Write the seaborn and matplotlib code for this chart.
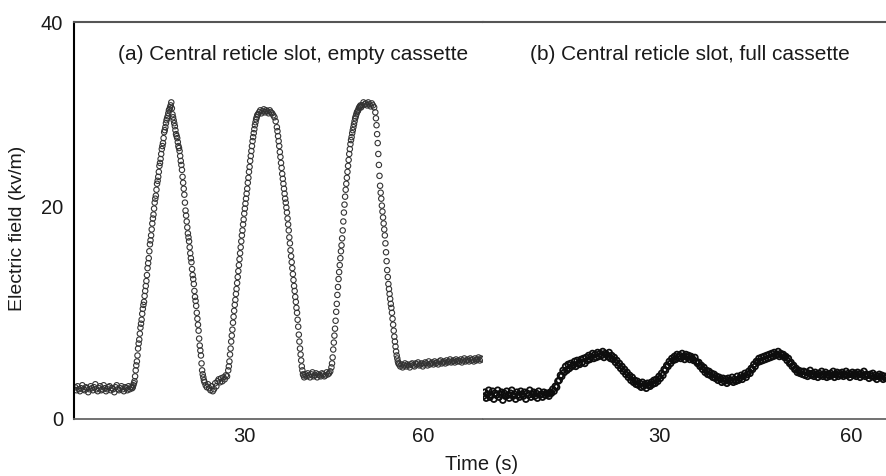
import numpy as np
import matplotlib
matplotlib.use("Agg")
import matplotlib.pyplot as plt
import matplotlib.transforms as mtransforms
import seaborn as sns

# Electric field readings (kV/m), main samples every 0.2 s
# (a) central reticle slot, empty cassette -> starts at t = 1.4 s
field_empty = [
    3.2, 2.9, 3.3, 3.0, 2.8, 3.1, 3.4, 3.0, 2.9, 3.2,
    3.1, 2.7, 3.0, 3.3, 3.1, 2.9, 3.2, 3.5, 3.0, 2.8,
    3.1, 3.3, 2.9, 3.0, 3.4, 3.1, 2.8, 3.0, 3.2, 3.3,
    2.9, 3.1, 3.0, 2.7, 3.2, 3.4, 3.0, 2.9, 3.1, 3.3,
    3.0, 2.8, 3.2, 3.1, 2.9, 3.3, 3.0, 3.2, 3.1,
    # first peak
    3.4, 3.8, 4.9, 5.8, 7.1, 8.0, 9.2, 10.0, 11.1, 11.8, 12.9, 13.9, 15.2, 16.2,
    17.6, 18.5, 19.7, 20.6, 21.8, 22.5, 23.7, 24.4, 25.5, 26.2, 27.2, 27.8, 28.9,
    29.4, 30.1, 30.5, 31.1, 31.4, 31.9,
    30.7, 30.1, 29.5, 28.7, 28.3, 27.5, 27.0, 26.0, 25.1, 23.8, 22.6, 21.0, 19.9,
    18.7, 17.9, 16.7, 15.8, 14.5, 13.6, 12.3, 11.4, 10.1, 8.9, 7.4, 6.4, 4.9, 4.2,
    3.7, 3.4, 3.2, 3.5, 3.1, 2.9, 3.3, 2.8, 3.0, 3.6, 3.3, 3.8, 4.0, 3.7, 4.1,
    3.8, 4.2, 4.0, 4.4, 4.3, 4.9,
    # second peak
    5.8, 7.1, 8.4, 9.7, 10.9, 12.0, 13.1, 14.3, 15.5, 16.7, 17.9, 19.0, 20.1,
    21.2, 22.2, 23.2, 24.3, 25.4, 26.5, 27.5, 28.4, 29.2, 29.9, 30.4,
    30.7, 30.9, 31.1, 30.8, 31.0, 31.2, 30.9, 31.1, 31.0, 30.8, 31.1, 30.9, 30.8,
    30.6, 30.4, 30.0, 29.4,
    28.5, 27.5, 26.4, 25.3, 24.2, 23.2, 22.2, 21.3, 20.2, 19.0, 17.7, 16.4, 15.2,
    14.0, 12.9, 11.8, 10.7, 9.3, 7.8, 6.5, 5.3, 4.5,
    4.2, 4.5, 4.3, 4.6, 4.4, 4.2, 4.5, 4.7, 4.3, 4.4, 4.6, 4.2, 4.5, 4.4, 4.3,
    4.6, 4.5, 4.3, 4.4, 4.7, 4.5, 4.6, 4.8, 5.2,
    # third peak
    6.2, 7.7, 9.1, 10.8, 12.5, 14.1, 15.5, 16.9, 18.2, 19.9, 21.6, 23.1, 24.3,
    25.5, 26.7, 27.7, 28.4, 29.1, 29.7, 30.3, 30.7, 31.0, 31.3, 31.5, 31.4,
    31.6, 31.9, 31.7, 31.8, 31.6, 31.9, 31.7, 31.5, 31.8, 31.6, 31.4, 30.9,
    29.6, 27.8, 25.6, 23.5, 22.2, 20.9, 19.7, 18.5, 16.8, 15.0, 13.6, 12.6, 11.6,
    10.7, 9.5, 8.3, 7.3, 6.4, 5.8, 5.5,
    5.3, 5.5, 5.2, 5.4, 5.6, 5.3, 5.5, 5.4, 5.2, 5.5,
    5.6, 5.4, 5.3, 5.6, 5.5, 5.7, 5.4, 5.5, 5.6, 5.3,
    5.5, 5.7, 5.6, 5.4, 5.8, 5.5, 5.6, 5.7, 5.5, 5.8,
    5.6, 5.7, 5.5, 5.8, 5.9, 5.6, 5.7, 5.8, 5.6, 5.9,
    5.7, 5.8, 6.0, 5.7, 5.8, 5.9, 5.7, 6.0, 5.8, 5.9,
    5.8, 6.0, 5.7, 5.9, 6.1, 5.8, 5.9, 6.0, 5.8, 6.1,
    5.9, 6.0, 5.8, 6.1, 5.9, 6.0, 6.2, 5.9, 6.1, 6.0,
]
t0_empty = 1.4

# in-between samples (0.1 s offset) on the steep edges of panel (a)
rise1_mid = [3.2, 3.6, 4.3, 5.4, 6.4, 7.6, 8.6, 9.6, 10.6, 11.5,
             12.4, 13.4, 14.5, 15.7, 16.9, 18.0, 19.1, 20.2, 21.2, 22.2,
             23.1, 24.0, 24.9, 25.8, 26.7, 27.5, 28.3, 29.1, 29.8, 30.3,
             30.8, 31.2, 31.6, 31.3]
fall1_mid = [30.4, 29.8, 29.1, 28.5, 27.9, 27.3, 26.5, 25.6, 24.4, 23.2,
             21.8, 20.5, 19.3, 18.3, 17.3, 16.2, 15.1, 14.1, 12.9, 11.9,
             10.7, 9.5, 8.1, 6.9, 5.6, 4.5, 3.9]
rise2_mid = [5.3, 6.5, 7.8, 9.0, 10.3, 11.5, 12.6, 13.7, 14.9, 16.1,
             17.3, 18.5, 19.6, 20.7, 21.7, 22.7, 23.8, 24.9, 26.0, 27.0,
             28.0, 28.8, 29.6, 30.2, 30.6]
fall2_mid = [29.0, 28.0, 26.9, 25.8, 24.7, 23.7, 22.7, 21.8, 20.8, 19.6,
             18.3, 17.0, 15.8, 14.6, 13.4, 12.3, 11.2, 10.0, 8.5, 7.1,
             5.9, 4.9, 4.4]
rise3_mid = [5.6, 7.0, 8.4, 9.9, 11.6, 13.3, 14.8, 16.2, 17.5, 19.0,
             20.8, 22.4, 23.7, 24.9, 26.1, 27.2, 28.1, 28.8, 29.4, 30.0,
             30.5, 30.9, 31.1, 31.4, 31.6]
fall3_mid = [30.3, 28.7, 26.7, 24.5, 22.8, 21.5, 20.3, 19.1, 17.7, 15.9,
             14.3, 13.1, 12.1, 11.2, 10.1, 8.9, 7.8, 6.8, 6.1, 5.6]
mid_starts = [11.1, 17.9, 27.3, 35.5, 44.7, 52.1]

# (b) central reticle slot, full cassette -> starts at t = 2.6 s
field_full = [
    2.3, 2.7, 2.1, 2.5, 2.9, 2.2, 2.4, 2.8, 2.0, 2.6,
    2.4, 2.9, 2.2, 2.5, 2.7, 1.9, 2.6, 2.3, 2.8, 2.4,
    2.1, 2.6, 2.9, 2.3, 2.5, 2.0, 2.7, 2.4, 2.2, 2.8,
    2.5, 2.3, 2.7, 2.0, 2.6, 2.4, 2.9, 2.2, 2.5, 2.7,
    2.3, 2.6, 2.1, 2.8, 2.4, 2.5, 2.2, 2.7, 2.4, 2.6,
    2.5, 2.3, 2.7, 2.6, 3.0, 2.8, 3.3, 3.2, 3.8, 3.9,
    4.4, 4.3, 4.9, 4.7, 5.3, 4.9, 5.5, 5.1, 5.6, 5.3,
    5.4, 5.8, 5.3, 5.9, 5.6, 5.5, 6.0, 5.7, 6.1, 5.6,
    6.2, 5.9, 6.4, 6.0, 6.3, 6.6, 6.1, 6.5, 6.2, 6.7,
    6.3, 6.6, 6.4, 6.8, 6.2, 6.6, 6.5, 6.3, 6.7, 6.1,
    6.4, 6.0, 6.2, 5.7, 5.9, 5.4, 5.6, 5.1, 5.3, 4.8,
    5.0, 4.5, 4.7, 4.2, 4.4, 3.9, 4.2, 3.7, 3.9, 3.5,
    3.8, 3.4, 3.6, 3.2, 3.7, 3.3, 3.5, 3.1, 3.6, 3.4,
    3.3, 3.7, 3.5, 3.9, 3.6, 4.0, 3.8, 4.3, 4.1, 4.6,
    4.4, 5.0, 4.9, 5.4, 5.3, 5.8, 5.6, 6.1, 5.9, 6.3,
    6.0, 6.5, 6.2, 6.4, 6.1, 6.6, 6.3, 6.0, 6.5, 6.2,
    6.4, 6.0, 6.3, 6.1, 5.9, 6.2, 5.8, 5.6, 5.7, 5.3,
    5.4, 5.0, 5.2, 4.7, 4.9, 4.5, 4.8, 4.4, 4.6, 4.2,
    4.5, 4.1, 4.3, 3.9, 4.2, 4.0, 3.7, 4.1, 3.8, 4.0,
    3.6, 4.1, 3.8, 3.9, 4.2, 3.7, 4.0, 3.8, 4.3, 3.9,
    4.1, 4.4, 4.0, 4.3, 4.6, 4.2, 4.5, 4.8, 4.6, 5.1,
    5.0, 5.5, 5.3, 5.8, 5.7, 6.1, 5.8, 6.2, 5.9, 6.3,
    6.0, 6.4, 6.1, 6.5, 6.2, 6.6, 6.3, 6.7, 6.4, 6.5,
    6.8, 6.3, 6.6, 6.4, 6.5, 6.2, 6.3, 5.9, 6.1, 5.6,
    5.7, 5.3, 5.4, 5.0, 5.1, 4.7, 4.9, 4.6, 4.8, 4.5,
    4.8, 4.4, 4.7, 4.3, 4.6, 4.9, 4.4, 4.6, 4.3, 4.7,
    4.5, 4.2, 4.6, 4.4, 4.8, 4.3, 4.5, 4.7, 4.2, 4.5,
    4.3, 4.6, 4.4, 4.8, 4.2, 4.5, 4.7, 4.3, 4.6, 4.4,
    4.7, 4.3, 4.5, 4.8, 4.4, 4.6, 4.2, 4.5, 4.7, 4.4,
    4.6, 4.3, 4.7, 4.5, 4.2, 4.6, 4.4, 4.8, 4.3, 4.5,
    4.4, 4.1, 4.5, 4.3, 4.6, 4.2, 4.4, 4.0, 4.3, 4.5,
    4.2, 4.4, 4.0, 4.3, 4.1, 4.3,
]
t0_full = 2.6
dt = 0.2

panel_labels = ["(a) Central reticle slot, empty cassette",
                "(b) Central reticle slot, full cassette"]
x_ticks_a = [10, 20, 30, 40, 50, 60, 70]
x_ticks_b = [10, 20, 30, 40, 50, 60]
y_ticks = [0, 20, 40]

# assemble time/value arrays for panel (a)
t_a = [np.round(t0_empty + dt * np.arange(len(field_empty)), 2)]
v_a = [np.array(field_empty)]
for start, seg in zip(mid_starts, [rise1_mid, fall1_mid, rise2_mid,
                                   fall2_mid, rise3_mid, fall3_mid]):
    t_a.append(np.round(start + dt * np.arange(len(seg)), 2))
    v_a.append(np.array(seg))
t_a = np.concatenate(t_a)
v_a = np.concatenate(v_a)
order = np.argsort(t_a, kind='stable')
t_a, v_a = t_a[order], v_a[order]

t_b = np.round(t0_full + dt * np.arange(len(field_full)), 2)

sns.set_theme(style="white")
plt.rcParams['font.family'] = ['Liberation Sans', 'DejaVu Sans']
plt.rcParams['text.color'] = '#1a1a1a'

W, H = 887, 476
fig = plt.figure(figsize=(W / 100, H / 100), dpi=100)
ax1 = fig.add_axes([74 / W, (H - 419) / H, (483 - 74) / W, (419 - 22) / H])
ax2 = fig.add_axes([483 / W, (H - 419) / H, (887 - 483) / W, (419 - 22) / H])

sns.scatterplot(x=t_a, y=v_a, ax=ax1, marker='o', s=15, facecolor='none',
                edgecolor='#333333', linewidth=0.8, legend=False)
sns.scatterplot(x=t_b, y=field_full, ax=ax2, marker='o', s=17, facecolor='none',
                edgecolor='#0d0d0d', linewidth=1.3, legend=False)

ax1.set_xlim(1.2, 70.15)
ax2.set_xlim(2.5, 65.6)
for ax in (ax1, ax2):
    ax.set_ylim(0, 40)
    ax.spines['right'].set_visible(False)
    ax.spines['top'].set_color('#555555')
    ax.spines['top'].set_linewidth(1.5)
    ax.spines['bottom'].set_color('#666666')
    ax.spines['bottom'].set_linewidth(1.3)
    ax.tick_params(axis='x', direction='in', length=8, width=1, color='#888888',
                   labelsize=14.5, pad=6, labelcolor='#1a1a1a')
    ax.set_xlabel('')
    ax.set_ylabel('')

ax1.spines['left'].set_color('black')
ax1.spines['left'].set_linewidth(1.5)
ax2.spines['left'].set_visible(False)

ax1.set_xticks(x_ticks_a)
ax1.set_xticklabels([str(v) if v in (30, 60) else '' for v in x_ticks_a])
ax2.set_xticks(x_ticks_b)
ax2.set_xticklabels([str(v) if v in (30, 60) else '' for v in x_ticks_b])

ax1.set_yticks(y_ticks)
ax1.set_yticklabels([str(v) for v in y_ticks])
ax1.tick_params(axis='y', length=0, labelsize=14.5, pad=8, labelcolor='#1a1a1a')
ax2.set_yticks([])

# the middle label sits a little above its gridline in the original
lbl20 = ax1.get_yticklabels()[1]
lbl20.set_transform(lbl20.get_transform() +
                    mtransforms.ScaledTranslation(0, 0.14, fig.dpi_scale_trans))

fig.text(18 / W, 1 - 228 / H, 'Electric field (kv/m)', fontsize=14,
         rotation=90, ha='center', va='center')
fig.text(482 / W, 1 - 464 / H, 'Time (s)', fontsize=14.5, ha='center', va='center')

ax1.text(8.6, 36.7, panel_labels[0], fontsize=15, ha='left', va='center')
ax2.text(9.8, 36.7, panel_labels[1], fontsize=15, ha='left', va='center')

fig.savefig('out.png', dpi=100)
